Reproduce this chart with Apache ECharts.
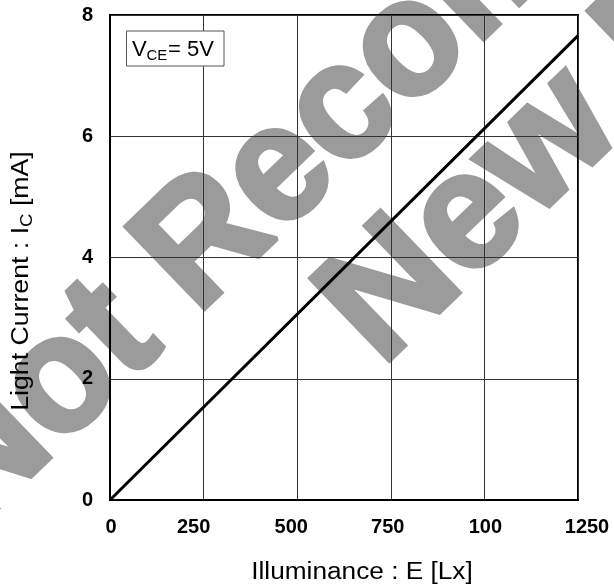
<!DOCTYPE html>
<html>
<head>
<meta charset="utf-8">
<script src="https://cdn.jsdelivr.net/npm/echarts@6/dist/echarts.min.js"></script>
<style>
html,body{margin:0;padding:0;background:#fff;}
#chart{width:614px;height:587px;}
</style>
</head>
<body>
<div id="chart"></div>
<script>
// ---- data ----
const illuminance = [0, 1250];
const lightCurrent = [0, 7.66];
const xTickValues = [0, 250, 500, 750, 1000, 1250];
const xTickLabels = ['0', '250', '500', '750', '100', '1250'];
const yTickLabels = ['0', '2', '4', '6', '8'];
const xTitle = 'Illuminance : E [Lx]';
const condition = ['V', 'CE', '= 5V'];
const watermark = ['Not Recommended', 'New Design'];

// small per-label nudges seen in the reference (px, + = right)
const xLabelShift = [1, -10, -6, -3, 1, 9];

const chart = echarts.init(document.getElementById('chart'), null, {renderer: 'canvas'});

const rich = {};
xTickLabels.forEach((t, i) => {
  const s = xLabelShift[i];
  rich['l' + i] = {
    fontFamily: 'Liberation Sans', fontWeight: 'bold', fontSize: 20, color: '#000',
    padding: s >= 0 ? [0, 0, 0, 2 * s] : [0, -2 * s, 0, 0]
  };
});

const rad = 44 * Math.PI / 180;
const wmStyle = {
  font: 'bold 165px "Liberation Sans"',
  fill: '#9b9b9b',
  stroke: '#9b9b9b', lineWidth: 5, lineJoin: 'round',
  textAlign: 'left', align: 'left',
  textVerticalAlign: 'middle', verticalAlign: 'middle'
};

const option = {
  backgroundColor: '#fff',
  animation: false,
  grid: {
    left: 110, right: 36, top: 15, bottom: 87,
    show: true, borderColor: '#000', borderWidth: 2, backgroundColor: 'transparent'
  },
  xAxis: {
    type: 'value', min: 0, max: 1250, interval: 250,
    axisLine: {show: true, lineStyle: {color: '#000', width: 2}},
    axisTick: {show: false},
    splitLine: {show: true, lineStyle: {color: '#333', width: 1}},
    axisLabel: {
      margin: 17,
      formatter: function (v) {
        const i = xTickValues.indexOf(v);
        return i < 0 ? '' : '{l' + i + '|' + xTickLabels[i] + '}';
      },
      rich: rich
    }
  },
  yAxis: {
    type: 'value', min: 0, max: 8, interval: 2,
    axisLine: {show: true, lineStyle: {color: '#000', width: 2}},
    axisTick: {show: false},
    splitLine: {show: true, lineStyle: {color: '#333', width: 1}},
    axisLabel: {
      margin: 17,
      fontFamily: 'Liberation Sans', fontWeight: 'bold', fontSize: 20, color: '#000',
      formatter: function (v) { return yTickLabels[Math.round(v / 2)]; }
    }
  },
  graphic: [
    {type: 'text', z: -10, x: -56, y: 497, rotation: rad, scaleX: 0.96,
      style: Object.assign({text: watermark[0]}, wmStyle)},
    {type: 'text', z: -10, x: 350, y: 335, rotation: rad,
      style: Object.assign({text: watermark[1]}, wmStyle)},
    {type: 'rect', z: 100, shape: {x: 126.5, y: 31, width: 97.5, height: 35},
      style: {fill: '#fff', stroke: '#555', lineWidth: 1}},
    {type: 'text', z: 101, x: 132, y: 50,
      style: {text: condition[0], font: '22px "Liberation Sans"', fill: '#000',
        textAlign: 'left', align: 'left', textVerticalAlign: 'middle', verticalAlign: 'middle'}},
    {type: 'text', z: 101, x: 146.5, y: 56,
      style: {text: condition[1], font: '15px "Liberation Sans"', fill: '#000',
        textAlign: 'left', align: 'left', textVerticalAlign: 'middle', verticalAlign: 'middle'}},
    {type: 'text', z: 101, x: 168, y: 50,
      style: {text: condition[2], font: '22px "Liberation Sans"', fill: '#000',
        textAlign: 'left', align: 'left', textVerticalAlign: 'middle', verticalAlign: 'middle'}},
    {type: 'text', z: 50, x: 362, y: 573, scaleX: 1.14,
      style: {text: xTitle, font: '23px "Liberation Sans"', fill: '#000',
        textAlign: 'center', align: 'center', textVerticalAlign: 'middle', verticalAlign: 'middle'}},
    {type: 'text', z: 50, x: 22, y: 281, rotation: Math.PI / 2, scaleX: 1.16,
      style: {
        text: '{a|Light Current : I}{s|C}{a| [mA]}',
        textAlign: 'center', align: 'center', textVerticalAlign: 'middle', verticalAlign: 'middle',
        rich: {
          a: {fontFamily: 'Liberation Sans', fontSize: 23, color: '#000', lineHeight: 32},
          s: {fontFamily: 'Liberation Sans', fontSize: 16, color: '#000', padding: [12, 0, 0, 0]}
        }
      }}
  ],
  series: [{
    type: 'line',
    data: illuminance.map((x, i) => [x, lightCurrent[i]]),
    showSymbol: false, symbol: 'none',
    lineStyle: {color: '#000', width: 3},
    z: 5
  }]
};
chart.setOption(option);
</script>
</body>
</html>
